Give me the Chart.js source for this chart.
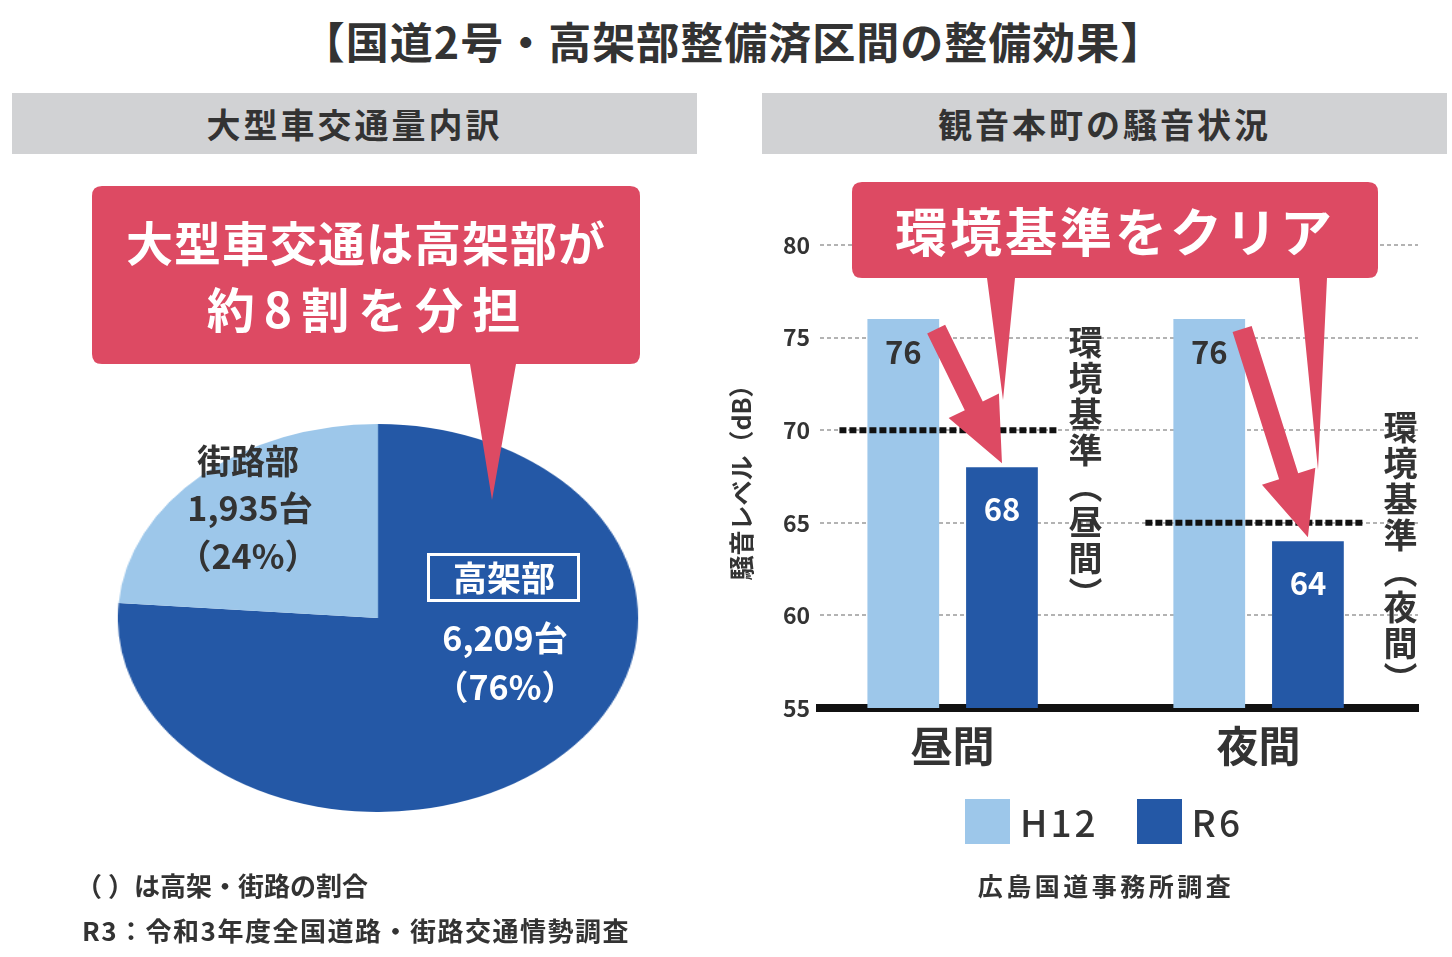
<!DOCTYPE html>
<html lang="ja">
<head>
<meta charset="utf-8">
<title>国道2号・高架部整備済区間の整備効果</title>
<script src="https://cdn.jsdelivr.net/npm/chart.js@4.4.1/dist/chart.umd.min.js"></script>
<style>
  html, body { margin: 0; padding: 0; background: #fff; }
  body {
    position: relative; width: 1452px; height: 957px; overflow: hidden;
    font-family: "Noto Sans CJK JP", "Noto Sans", sans-serif; color: #333;
  }
  .abs { position: absolute; }
  .c { transform: translate(-50%, -50%); white-space: nowrap; line-height: 1; }
  .l { transform: translate(0, -50%); white-space: nowrap; line-height: 1; }
  .bold { font-weight: 700; }
  .panel-head {
    top: 93px; height: 61px; width: 685px; background: #d1d2d4;
    display: flex; align-items: center; justify-content: center;
    font-size: 34px; font-weight: 700; letter-spacing: 3px;
  }
  .vert { writing-mode: vertical-rl; font-size: 34px; font-weight: 700; letter-spacing: 2px; line-height: 1; }
  .white { color: #fff; }
  #legend { left: 965px; top: 794px; display: flex; align-items: center; }
  .lg-item { display: flex; align-items: center; margin-right: 38px; font-size: 37px; font-weight: 500; letter-spacing: 3px; }
  .lg-box { width: 45px; height: 45px; margin-right: 10px; }
</style>
</head>
<body>
<div class="abs c bold" style="left:733px;top:40px;font-size:43px;letter-spacing:1px;">【国道2号・高架部整備済区間の整備効果】</div>

<div class="abs panel-head" style="left:12px;">大型車交通量内訳</div>
<div class="abs panel-head" style="left:762px;">観音本町の騒音状況</div>

<canvas id="pie" class="abs" width="388" height="388" style="left:184px;top:424px;transform:scaleX(1.341);"></canvas>
<canvas id="bar" class="abs" width="732" height="625" style="left:720px;top:190px;"></canvas>

<svg class="abs" style="left:0;top:0;" width="1452" height="957">
  <path fill="#dd4a63" d="M102 186 H630 Q640 186 640 196 V354 Q640 364 630 364 H516 L492 500 L470 364 H102 Q92 364 92 354 V196 Q92 186 102 186 Z"/>
  <path fill="#dd4a63" d="M862 182 H1368 Q1378 182 1378 192 V268 Q1378 278 1368 278 H1327 L1318 470 L1299 278 H1015 L1003 400 L987 278 H862 Q852 278 852 268 V192 Q852 182 862 182 Z"/>
</svg>

<div class="abs c bold white" style="left:366px;top:240px;font-size:47px;letter-spacing:1px;">大型車交通は高架部が</div>
<div class="abs c bold white" style="left:368px;top:307px;font-size:48px;letter-spacing:9px;">約8割を分担</div>
<div class="abs c bold white" style="left:1115px;top:230px;font-size:52px;letter-spacing:3px;">環境基準をクリア</div>

<div id="pieLabels"></div>

<div class="abs vert" style="left:1068px;top:325px;">環境基準（昼間）</div>
<div class="abs vert" style="left:1383px;top:410px;">環境基準（夜間）</div>

<div id="legend" class="abs"></div>

<div class="abs c bold" style="left:1106px;top:885px;font-size:25px;letter-spacing:3.5px;">広島国道事務所調査</div>
<div class="abs l bold" style="left:76px;top:885px;font-size:26px;">（ ）は高架・街路の割合</div>
<div class="abs l bold" style="left:82px;top:930px;font-size:26px;letter-spacing:1.5px;">R3：令和3年度全国道路・街路交通情勢調査</div>

<script>
  // --- dane: wykres kołowy (大型車交通量内訳) ---
  const PIE_LABELS = ["高架部", "街路部"];
  const PIE_VALUES = [6209, 1935];
  const PIE_SHARES = [76, 24];

  // --- dane: wykres słupkowy (騒音状況) ---
  const PERIODS = ["昼間", "夜間"];
  const SERIES = ["H12", "R6"];
  const H12_VALUES = [76, 76];
  const R6_VALUES = [68, 64];
  const STANDARDS = [70, 65]; // 環境基準 (昼間, 夜間)
  const Y_TICKS = [55, 60, 65, 70, 75, 80];

  const LIGHT = "#9dc7ea";
  const DARK = "#2458a6";
  const RED = "#dd4a63";
  const TEXT = "#333";
  const FONT = '"Noto Sans CJK JP", "Noto Sans", sans-serif';

  // zakres osi x (liniowej) – kategorie w punktach 0 i 1
  const X_MIN = -0.433;
  const X_MAX = 1.521;

  Chart.defaults.font.family = FONT;
  Chart.defaults.color = TEXT;

  function buildPieLabels() {
    const box = document.getElementById("pieLabels");
    const fmt = (n) => n.toLocaleString("en-US");
    box.innerHTML = `
      <div class="abs c bold" style="left:248px;top:460px;font-size:34px;">${PIE_LABELS[1]}</div>
      <div class="abs c bold" style="left:250px;top:507px;font-size:34px;">${fmt(PIE_VALUES[1])}台</div>
      <div class="abs c bold" style="left:248px;top:555px;font-size:34px;">（${PIE_SHARES[1]}%）</div>
      <div class="abs" style="left:427px;top:553px;width:147px;height:43px;border:3px solid #fff;"></div>
      <div class="abs c bold white" style="left:504px;top:577px;font-size:34px;">${PIE_LABELS[0]}</div>
      <div class="abs c bold white" style="left:505px;top:637px;font-size:34px;">${fmt(PIE_VALUES[0])}台</div>
      <div class="abs c bold white" style="left:505px;top:686px;font-size:34px;">（${PIE_SHARES[0]}%）</div>`;
  }

  function buildLegend() {
    const el = document.getElementById("legend");
    const colors = [LIGHT, DARK];
    SERIES.forEach((name, i) => {
      const item = document.createElement("div");
      item.className = "lg-item";
      const sq = document.createElement("div");
      sq.className = "lg-box";
      sq.style.background = colors[i];
      const span = document.createElement("span");
      span.textContent = name;
      item.appendChild(sq);
      item.appendChild(span);
      el.appendChild(item);
    });
  }

  function drawArrow(ctx, x0, y0, x1, y1) {
    const ang = Math.atan2(y1 - y0, x1 - x0);
    const len = Math.hypot(x1 - x0, y1 - y0);
    const shaft = 20, head = 56, headLen = 64;
    ctx.save();
    ctx.translate(x0, y0);
    ctx.rotate(ang);
    ctx.beginPath();
    ctx.moveTo(0, -shaft / 2);
    ctx.lineTo(len - headLen, -shaft / 2);
    ctx.lineTo(len - headLen, -head / 2);
    ctx.lineTo(len, 0);
    ctx.lineTo(len - headLen, head / 2);
    ctx.lineTo(len - headLen, shaft / 2);
    ctx.lineTo(0, shaft / 2);
    ctx.closePath();
    ctx.fillStyle = RED;
    ctx.fill();
    ctx.restore();
  }

  // wartości na słupkach + strzałki H12 -> R6
  const barExtras = {
    id: "barExtras",
    afterDatasetsDraw(chart) {
      const ctx = chart.ctx;
      const h12 = chart.getDatasetMeta(2).data;
      const r6 = chart.getDatasetMeta(3).data;
      ctx.save();
      ctx.font = `bold 31px ${FONT}`;
      ctx.textAlign = "center";
      ctx.textBaseline = "middle";
      h12.forEach((bar, i) => {
        ctx.fillStyle = TEXT;
        ctx.fillText(String(H12_VALUES[i]), bar.x, bar.y + 33);
      });
      r6.forEach((bar, i) => {
        ctx.fillStyle = "#fff";
        ctx.fillText(String(R6_VALUES[i]), bar.x, bar.y + 42);
      });
      ctx.restore();
      h12.forEach((bar, i) => {
        const tip = r6[i];
        drawArrow(ctx, bar.x + bar.width / 2 - 3, bar.y + 10, tip.x, tip.y - 4);
      });
    },
  };

  function renderPie() {
    new Chart(document.getElementById("pie"), {
      type: "pie",
      data: {
        labels: PIE_LABELS,
        datasets: [{
          data: PIE_VALUES,
          backgroundColor: [DARK, LIGHT],
          borderWidth: 0,
          hoverOffset: 0,
          offset: 0,
        }],
      },
      options: {
        responsive: false,
        animation: false,
        layout: { padding: 0 },
        plugins: { legend: { display: false }, tooltip: { enabled: false } },
      },
    });
  }

  function renderBars() {
    // linie 環境基準 – krótkie odcinki przy każdej kategorii
    const standardSets = STANDARDS.map((v, i) => ({
      type: "line",
      label: "環境基準" + PERIODS[i],
      data: [{ x: i - 0.37, y: v }, { x: i + 0.34, y: v }],
      borderColor: "#111",
      borderWidth: 6,
      borderDash: [7, 3],
      pointRadius: 0,
      fill: false,
      order: 0,
    }));

    new Chart(document.getElementById("bar"), {
      type: "bar",
      data: {
        datasets: [
          ...standardSets,
          {
            label: SERIES[0],
            data: PERIODS.map((p, i) => ({ x: i, y: H12_VALUES[i] })),
            backgroundColor: LIGHT,
            order: 1,
          },
          {
            label: SERIES[1],
            data: PERIODS.map((p, i) => ({ x: i, y: R6_VALUES[i] })),
            backgroundColor: DARK,
            order: 1,
          },
        ],
      },
      options: {
        responsive: false,
        animation: false,
        datasets: { bar: { categoryPercentage: 0.645, barPercentage: 0.727 } },
        layout: { padding: { top: 55, right: 34, left: 3, bottom: 31 } },
        plugins: { legend: { display: false }, tooltip: { enabled: false } },
        scales: {
          x: {
            type: "linear",
            min: X_MIN,
            max: X_MAX,
            offset: false,
            bounds: "data",
            grace: 0,
            afterDataLimits: (axis) => {
              axis.min = X_MIN;
              axis.max = X_MAX;
            },
            afterBuildTicks: (axis) => {
              axis.ticks = PERIODS.map((p, i) => ({ value: i }));
            },
            ticks: {
              callback: (v) => PERIODS[v] ?? "",
              font: { size: 42, weight: "bold", lineHeight: 1 },
              color: TEXT,
              padding: 17,
              autoSkip: false,
              maxRotation: 0,
            },
            grid: { display: false, drawTicks: false },
            border: { color: "#111", width: 8 },
          },
          y: {
            min: 55,
            max: 80,
            afterBuildTicks: (axis) => {
              axis.ticks = Y_TICKS.map((v) => ({ value: v }));
            },
            ticks: {
              font: { size: 23, weight: "bold" },
              color: TEXT,
              padding: 10,
            },
            grid: { color: "#b3b3b3", lineWidth: 2, drawTicks: false },
            border: { display: false, dash: [4, 3] },
            title: {
              display: true,
              text: "騒音レベル（dB）",
              font: { size: 25, weight: "bold" },
              color: TEXT,
              padding: { top: 3, bottom: 17 },
            },
          },
        },
      },
      plugins: [barExtras],
    });
  }

  document.addEventListener("DOMContentLoaded", () => {
    buildPieLabels();
    buildLegend();
    renderPie();
    renderBars();
  });
</script>
</body>
</html>
